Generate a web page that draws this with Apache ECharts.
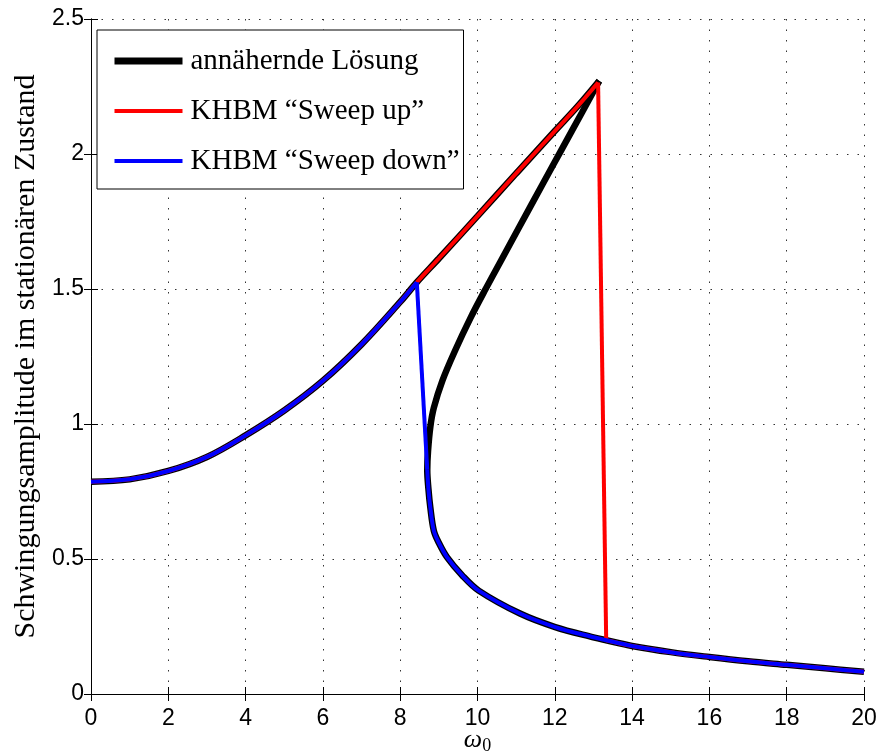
<!DOCTYPE html>
<html>
<head>
<meta charset="utf-8">
<script src="https://cdn.jsdelivr.net/npm/echarts@6/dist/echarts.min.js"></script>
<style>
  html, body { margin: 0; padding: 0; background: #fff; }
  #main { width: 881px; height: 751px; }
</style>
</head>
<body>
<div id="main"></div>
<script>
// obere stabile Lösung (Frequenz / Amplitude)
let upperW = [0, 1, 2, 3, 4, 5, 6, 7, 8, 8.43, 9, 10, 11, 12, 12.6, 13.15];
let upperA = [0.786, 0.795, 0.826, 0.878, 0.958, 1.05, 1.16, 1.295, 1.452, 1.525, 1.613, 1.77, 1.928, 2.085, 2.178, 2.271];

// instabiler Ast (nur Näherungslösung), vom Maximum rückwärts
let middleW = [13.15, 12.7, 12.19, 11.68, 11.07, 10.6, 10.21, 9.82, 9.43, 9.09, 8.87, 8.78, 8.72];
let middleA = [2.271, 2.153, 2.02, 1.887, 1.727, 1.603, 1.5, 1.393, 1.275, 1.16, 1.06, 0.99, 0.9];

// untere stabile Lösung, ab dem Umkehrpunkt
let lowerW = [8.7, 8.73, 8.78, 8.87, 9.0, 9.21, 9.6, 10.03, 11.1, 12.01, 13.0, 13.33, 14, 15, 16, 17, 18, 19, 20];
let lowerA = [0.83, 0.76, 0.69, 0.605, 0.56, 0.507, 0.44, 0.383, 0.298, 0.248, 0.21, 0.199, 0.178, 0.155, 0.137, 0.121, 0.108, 0.095, 0.082];

// Sprungstellen
let jumpUp = [13.12, 2.265];     // Sweep up: Absprung oben
let jumpUpEnd = [13.33, 0.199];  // Sweep up: Landung unten
let jumpDown = [8.7, 0.83];      // Sweep down: Absprung unten
let jumpDownEnd = [8.43, 1.525]; // Sweep down: Landung oben

let legendNames = ['annähernde Lösung', 'KHBM “Sweep up”', 'KHBM “Sweep down”'];

function pairs(ws, as) {
  return ws.map((w, i) => [w, as[i]]);
}

let upperPts = pairs(upperW, upperA);
let lowerPts = pairs(lowerW, lowerA);

// Näherungslösung: oberer Ast, dann instabiler + unterer Ast
let approxUpper = upperPts;
let approxRest = pairs(middleW, middleA).concat(lowerPts);

// Sweep up: oberer Ast bis Sprung, Sprung, unterer Ast
let upBefore = upperPts.filter(p => p[0] < jumpUp[0]).concat([jumpUp]);
let upJump = [jumpUp, jumpUpEnd];
let upAfter = [jumpUpEnd].concat(lowerPts.filter(p => p[0] > jumpUpEnd[0]));

// Sweep down: unterer Ast rückwärts bis Sprung, Sprung, oberer Ast
let downBefore = lowerPts.filter(p => p[0] >= jumpDown[0]).reverse();
let downJump = [jumpDown, jumpDownEnd];
let downAfter = [jumpDownEnd].concat(upperPts.filter(p => p[0] < jumpDownEnd[0]).reverse());

let chart = echarts.init(document.getElementById('main'), null, { renderer: 'canvas' });

let serif = '"Liberation Serif", "DejaVu Serif", serif';
let sans = '"Liberation Sans", Arial, sans-serif';

let gridLine = {
  show: true,
  lineStyle: { color: '#333', width: 1, type: [1.5, 9] }
};

// eine Linie (gleicher Name -> ein Legendeneintrag)
function curve(name, data, color, width, smooth, z) {
  return {
    name: name, type: 'line', data: data,
    showSymbol: false, symbol: 'none', smooth: smooth,
    lineStyle: { color: color, width: width }, itemStyle: { color: color }, z: z
  };
}

let option = {
  animation: false,
  backgroundColor: '#fff',
  grid: { left: 91, right: 17, top: 19, bottom: 57, containLabel: false, outerBoundsMode: 'none' },
  legend: {
    orient: 'vertical',
    left: 97,
    top: 30,
    data: [
      { name: legendNames[0], lineStyle: { width: 7 } },
      { name: legendNames[1], lineStyle: { width: 4 } },
      { name: legendNames[2], lineStyle: { width: 4 } }
    ],
    backgroundColor: '#fff',
    borderColor: '#000',
    borderWidth: 1,
    padding: [16, 4, 13, 14],
    itemWidth: 68,
    itemHeight: 14,
    itemGap: 20,
    selectedMode: false,
    itemStyle: { opacity: 0 },
    textStyle: { fontFamily: serif, fontSize: 29, color: '#000', lineHeight: 30, padding: [0, 0, 0, 3] }
  },
  xAxis: [
    {
      type: 'value', min: 0, max: 20, interval: 2,
      name: '{w|ω}{s|0}', nameLocation: 'middle', nameGap: 31, nameMoveOverlap: false,
      nameTextStyle: {
        rich: {
          w: { fontFamily: serif, fontStyle: 'italic', fontSize: 26, color: '#000' },
          s: { fontFamily: serif, fontSize: 18, color: '#000', verticalAlign: 'bottom', padding: [12, 0, 0, 0] }
        }
      },
      axisLine: { lineStyle: { color: '#000', width: 1 } },
      axisTick: { inside: true, length: 7, lineStyle: { color: '#000' } },
      axisLabel: { fontFamily: sans, fontSize: 23, color: '#000', margin: 13 },
      splitLine: gridLine
    },
    {
      type: 'value', min: 0, max: 20, interval: 2, position: 'top',
      axisLine: { show: true, lineStyle: { color: '#000', width: 1 } },
      axisTick: { show: true, inside: true, length: 7, lineStyle: { color: '#000' } },
      axisLabel: { show: false },
      splitLine: { show: false }
    }
  ],
  yAxis: [
    {
      type: 'value', min: 0, max: 2.5, interval: 0.5,
      name: 'Schwingungsamplitude im stationären Zustand',
      nameLocation: 'middle', nameGap: 50, nameMoveOverlap: false,
      nameTextStyle: { fontFamily: serif, fontSize: 30, color: '#000' },
      axisLine: { show: true, lineStyle: { color: '#000', width: 1 } },
      axisTick: { show: true, inside: true, length: 7, lineStyle: { color: '#000' } },
      axisLabel: { fontFamily: sans, fontSize: 23, color: '#000', margin: 7 },
      splitLine: gridLine
    },
    {
      type: 'value', min: 0, max: 2.5, interval: 0.5, position: 'right',
      axisLine: { show: true, lineStyle: { color: '#000', width: 1 } },
      axisTick: { show: true, inside: true, length: 7, lineStyle: { color: '#000' } },
      axisLabel: { show: false },
      splitLine: { show: false }
    }
  ],
  series: [
    curve(legendNames[0], approxUpper, '#000', 6.5, 0.35, 2),
    curve(legendNames[0], approxRest, '#000', 6.5, 0.35, 2),
    curve(legendNames[1], upBefore, '#ff0000', 4, 0.35, 3),
    curve(legendNames[1], upJump, '#ff0000', 4, false, 3),
    curve(legendNames[1], upAfter, '#ff0000', 4, 0.35, 3),
    curve(legendNames[2], downBefore, '#0000ff', 4, 0.35, 4),
    curve(legendNames[2], downJump, '#0000ff', 4, false, 4),
    curve(legendNames[2], downAfter, '#0000ff', 4, 0.35, 4)
  ]
};

chart.setOption(option);
</script>
</body>
</html>
